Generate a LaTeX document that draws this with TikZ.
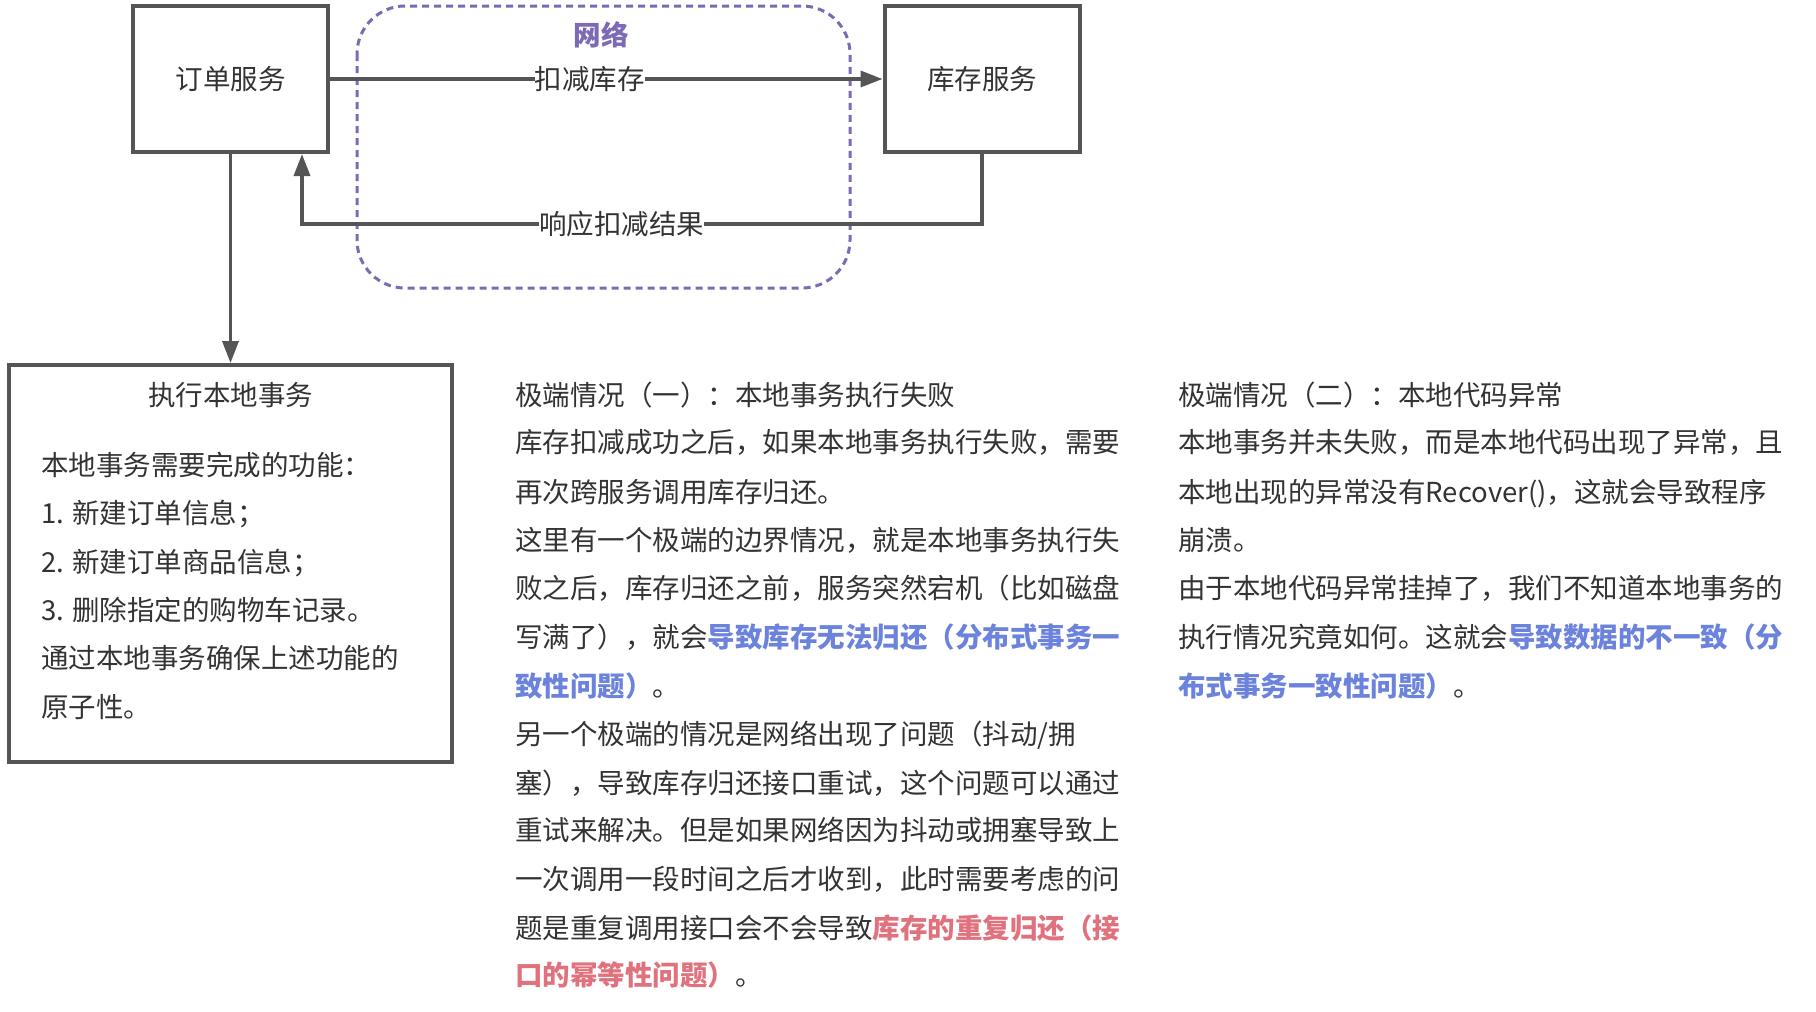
\documentclass[tikz,border=0pt]{standalone}
\usepackage{fontspec}
\setmainfont{Noto Sans CJK SC}
\usetikzlibrary{arrows.meta}
\definecolor{lg}{HTML}{555555}
\definecolor{tx}{HTML}{333333}
\definecolor{pu}{HTML}{7E6AB4}
\definecolor{bl}{HTML}{6C83DD}
\definecolor{rd}{HTML}{E0727E}
\newcommand\fsz{\fontsize{27.5}{30}\selectfont}
\newcommand\hb[1]{{\bfseries\color{bl}#1}}
\newcommand\hr[1]{{\bfseries\color{rd}#1}}
\tikzset{
  svcbox/.style={draw=lg, line width=4pt, minimum width=195pt, minimum height=146pt, inner sep=0pt, text=tx, font=\fsz},
  ln/.style={anchor=base west, inner sep=0pt, text=tx, font=\fsz},
  conn/.style={draw=lg, line width=3.5pt, -{Triangle[length=22pt,width=16pt]}},
  lbl/.style={fill=white, inner sep=0pt, text=tx, font=\fsz},
}
\begin{document}
\begin{tikzpicture}[x=1pt,y=-1pt]
\useasboundingbox[fill=white] (0,0) rectangle (1816,1012);
% network region
\draw[pu, line width=3pt, dash pattern=on 7pt off 5pt, rounded corners=48pt] (357,6) rectangle (850,288);
\node[text=pu, font=\fsz\bfseries, inner sep=0pt] (net) at (601,35) {网络};
% services
\node[svcbox] (order) at (230.5,79) {订单服务};
\node[svcbox] (stock) at (982,79) {库存服务};
% local transaction box
\node[draw=lg, line width=4pt, minimum width=443pt, minimum height=397pt, inner sep=0pt] (local) at (230.5,563.5) {};
% connectors
\draw[conn] (order.east) -- node[lbl, pos=0.47] (l1) {扣减库存} (stock.west);
\coordinate (c1) at (982,224);
\coordinate (c2) at (302,224);
\draw[conn] (stock.south) -- (c1) -- node[lbl, pos=0.53] (l2) {响应扣减结果} (c2) -- (order.south -| c2);
\draw[conn] (order.south) -- (local.north);
% local box text
\node[anchor=base, inner sep=0pt, text=tx, font=\fsz] (t0) at (230.5,405) {执行本地事务};
\node[ln] (t1) at (41,475) {本地事务需要完成的功能：};
\node[ln] (t2) at (41,523) {1. 新建订单信息；};
\node[ln] (t3) at (41,572) {2. 新建订单商品信息；};
\node[ln] (t4) at (41,620) {3. 删除指定的购物车记录。};
\node[ln] (t5) at (41,668) {通过本地事务确保上述功能的};
\node[ln] (t6) at (41,717) {原子性。};
% column 2
\node[ln] (a1) at (515,405) {极端情况（一）：本地事务执行失败};
\node[ln] (a2) at (515,452) {库存扣减成功之后，如果本地事务执行失败，需要};
\node[ln] (a3) at (515,502) {再次跨服务调用库存归还。};
\node[ln] (a4) at (515,550) {这里有一个极端的边界情况，就是本地事务执行失};
\node[ln] (a5) at (515,598) {败之后，库存归还之前，服务突然宕机（比如磁盘};
\node[ln] (a6) at (515,647) {写满了），就会\hb{导致库存无法归还（分布式事务一}};
\node[ln] (a7) at (515,696) {\hb{致性问题）}。};
\node[ln] (a8) at (515,744) {另一个极端的情况是网络出现了问题（抖动/拥};
\node[ln] (a9) at (515,793) {塞），导致库存归还接口重试，这个问题可以通过};
\node[ln] (a10) at (515,840) {重试来解决。但是如果网络因为抖动或拥塞导致上};
\node[ln] (a11) at (515,889) {一次调用一段时间之后才收到，此时需要考虑的问};
\node[ln] (a12) at (515,938) {题是重复调用接口会不会导致\hr{库存的重复归还（接}};
\node[ln] (a13) at (515,985) {\hr{口的幂等性问题）}。};
% column 3
\node[ln] (b1) at (1178,405) {极端情况（二）：本地代码异常};
\node[ln] (b2) at (1178,452) {本地事务并未失败，而是本地代码出现了异常，且};
\node[ln] (b3) at (1178,502) {本地出现的异常没有Recover()，这就会导致程序};
\node[ln] (b4) at (1178,550) {崩溃。};
\node[ln] (b5) at (1178,598) {由于本地代码异常挂掉了，我们不知道本地事务的};
\node[ln] (b6) at (1178,647) {执行情况究竟如何。这就会\hb{导致数据的不一致（分}};
\node[ln] (b7) at (1178,696) {\hb{布式事务一致性问题）}。};
\end{tikzpicture}
\end{document}
